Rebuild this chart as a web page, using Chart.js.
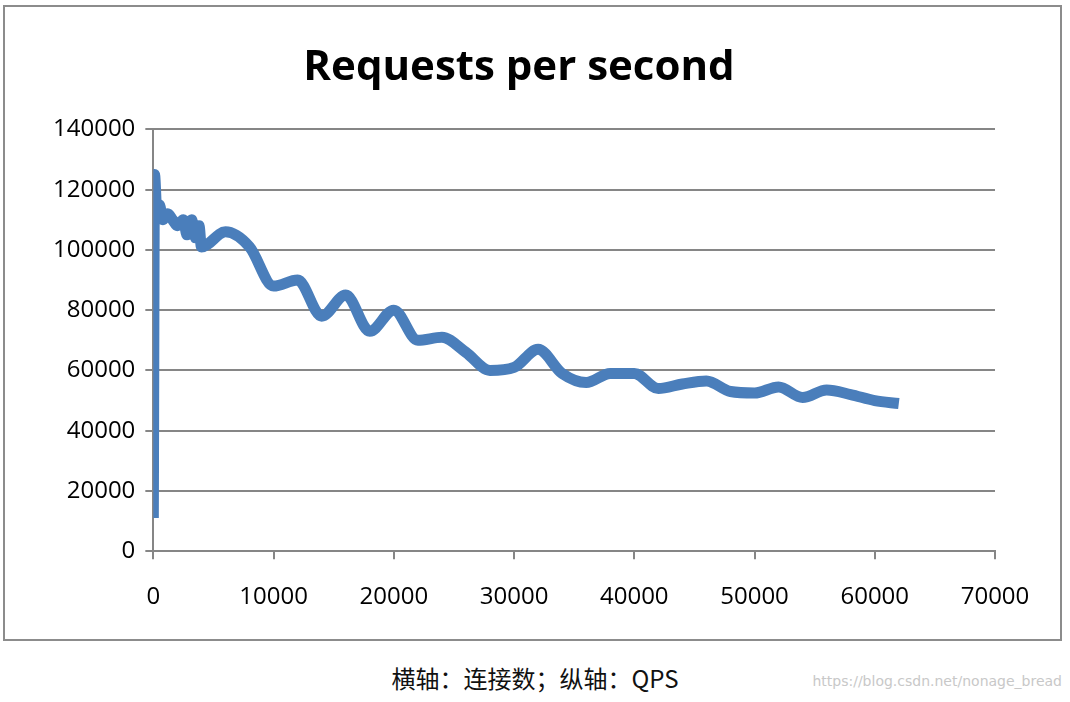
<!DOCTYPE html>
<html lang="en">
<head>
<meta charset="UTF-8" />
<title>Requests per second</title>
<style>
    body, html { margin: 0; padding: 0; background: #fff; overflow: hidden; }
    #frame {
        position: absolute; left: 3px; top: 5px; width: 1059px; height: 636px;
        border: 2px solid #8c8c8c; box-sizing: border-box;
    }
    #caption {
        position: absolute; left: 0; width: 1070px; top: 660px; text-align: center;
        font-family: "Noto Sans CJK SC", sans-serif; font-size: 24px; color: #111;
    }
    #mark {
        position: absolute; right: 8px; top: 673px;
        font-family: "DejaVu Sans", sans-serif; font-size: 14px; color: #c8c8c8;
    }
</style>
</head>
<body>
<div id="frame"><canvas id="chart" width="1055" height="632"></canvas></div>
<div id="caption">横轴：连接数；纵轴：QPS</div>
<div id="mark">https://blog.csdn.net/nonage_bread</div>
<script src="https://cdn.jsdelivr.net/npm/chart.js@4.4.0/dist/chart.umd.min.js"></script>
<script>
    // connections (x) and QPS (y)
    const connections = [0, 100, 300, 500, 800, 1200, 1600, 2000, 2500, 2800, 3200, 3500, 3800, 4000,
        6000, 8000, 10000, 12000, 14000, 16000, 18000, 20000, 22000, 24000, 26000, 28000, 30000,
        32000, 34000, 36000, 38000, 40000, 42000, 44000, 46000, 48000, 50000, 52000, 54000, 56000,
        58000, 60000, 62000];
    const qps = [11000, 125000, 112000, 115000, 110000, 112000, 110000, 108000, 110000, 105000, 110000, 104000, 108000, 101000,
        106000, 101000, 88000, 90000, 78000, 85000, 73000, 80000, 70000, 71000, 66000, 60000, 61000,
        67000, 59000, 56000, 59000, 59000, 54000, 55500, 56500, 53000, 52500, 54500, 51000, 53500,
        52000, 50000, 49000];

    const points = connections.map((x, i) => ({ x: x, y: qps[i] }));
    const tickFont = { family: "Open Sans", size: 24 };
    const plain = (v) => String(v);

    new Chart(document.getElementById("chart"), {
        type: "scatter",
        data: {
            datasets: [{
                data: points,
                showLine: true,
                borderColor: "#4a7ebb",
                borderWidth: 11,
                pointRadius: 0,
                tension: 0.4,
                cubicInterpolationMode: "monotone",
            }],
        },
        options: {
            responsive: false,
            animation: false,
            layout: { padding: { left: 38, right: 65, top: 0, bottom: 3 } },
            plugins: {
                legend: { display: false },
                tooltip: { enabled: false },
                title: {
                    display: true,
                    text: "Requests per second",
                    color: "#000",
                    font: { family: "Open Sans", size: 42, weight: "bold" },
                    padding: { top: 36, bottom: 36 },
                },
            },
            scales: {
                x: {
                    type: "linear",
                    min: 0, max: 70000,
                    ticks: { stepSize: 10000, color: "#000", font: tickFont, padding: 24, callback: plain },
                    grid: { display: true, drawOnChartArea: false, color: "#868686", lineWidth: 2, tickLength: 8 },
                    border: { color: "#868686", width: 2 },
                },
                y: {
                    min: 0, max: 140000,
                    ticks: { stepSize: 20000, color: "#000", font: tickFont, padding: 10, callback: plain },
                    grid: { color: "#868686", lineWidth: 2, tickLength: 8 },
                    border: { color: "#868686", width: 2 },
                },
            },
        },
    });
</script>
</body>
</html>
